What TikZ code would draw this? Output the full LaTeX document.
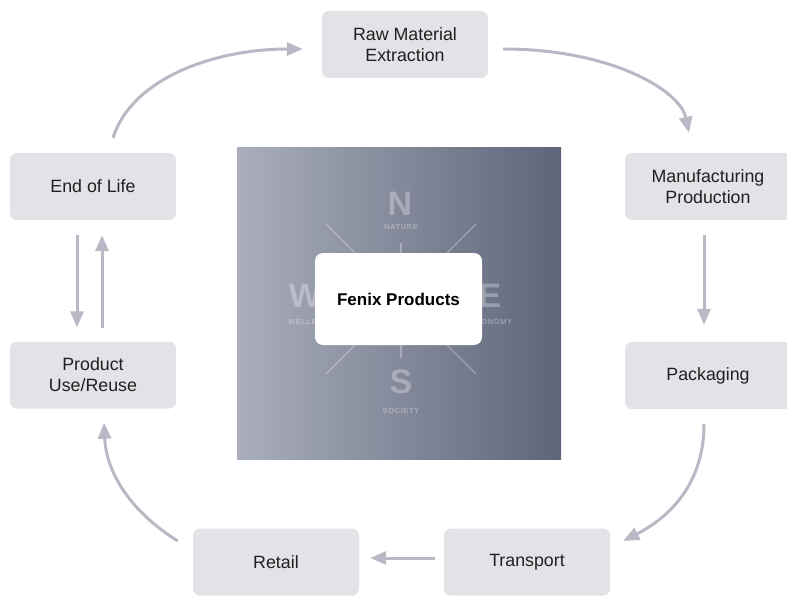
\documentclass[tikz,border=0pt]{standalone}
\usepackage{fontspec}
\setmainfont{Liberation Sans}
\usetikzlibrary{arrows.meta,calc}
\definecolor{boxfill}{HTML}{E2E2E7}
\definecolor{arrcol}{HTML}{B9B9C6}
\definecolor{txt}{HTML}{231F20}
\definecolor{gradL}{HTML}{AAAEBC}
\definecolor{gradR}{HTML}{5D6579}
\begin{document}
\begin{tikzpicture}[x=1pt,y=-1pt,
 stagebox/.style={fill=boxfill, rounded corners=7pt, minimum width=166pt, minimum height=67pt, inner sep=0pt, align=center, text=txt, font=\fontsize{17.8}{21}\selectfont},
 flow/.style={draw=arrcol, line width=3pt, -{Triangle[length=16pt,width=13pt]}},
 compass/.style={text=white, text opacity=0.3, font=\bfseries\fontsize{34}{34}\selectfont, inner sep=0pt},
 clabel/.style={text=white, text opacity=0.32, font=\bfseries\fontsize{7.5}{8}\selectfont\addfontfeatures{LetterSpace=8}, inner sep=0pt},
 cline/.style={draw=white, draw opacity=0.3, line width=1.2pt}]
\useasboundingbox (0,0) rectangle (787,596);
\clip (0,0) rectangle (787,596);

% stages
\node[stagebox] (raw) at (405,44.5) {Raw Material\\Extraction};
\node[stagebox] (man) at (708,186.5) {Manufacturing\\Production};
\node[stagebox] (pack) at (708,375.5) {Packaging};
\node[stagebox] (trans) at (527,562) {Transport};
\node[stagebox] (ret) at (276,562) {Retail};
\node[stagebox] (use) at (93,375) {Product\\Use/Reuse};
\node[stagebox] (eol) at (93,186.5) {End of Life};

% central square
\node[left color=gradL, right color=gradR, minimum width=324pt, minimum height=311pt, inner sep=0pt] (sq) at (399,303.5) {};
\coordinate (cc) at (401,299);
\draw[cline] ($(cc)+(0,-56)$) -- ($(cc)+(0,59)$);
\draw[cline] ($(cc)+(-75,-75)$) -- ($(cc)+(75,75)$);
\draw[cline] ($(cc)+(75,-75)$) -- ($(cc)+(-75,75)$);
\node[compass] (cn) at (400,204) {N};
\node[clabel] (cnl) at (401,227) {NATURE};
\node[compass] (cs) at (401,382) {S};
\node[clabel] (csl) at (401,411) {SOCIETY};
\node[compass] (cw) at (305,296) {W};
\node[clabel] (cwl) at (313,322) {WELLBEING};
\node[compass] (ce) at (490,296) {E};
\node[clabel] (cel) at (491,322) {ECONOMY};
\node[fill=white, rounded corners=8pt, minimum width=167pt, minimum height=92pt, inner sep=0pt, text=black, font=\bfseries\fontsize{17}{20}\selectfont] (fenix) at (398.5,299) {Fenix Products};

% connectors
\coordinate (a1s) at ($(eol.north)+(20,-15)$);
\coordinate (a1e) at ($(raw.west)+(-19,4.5)$);
\coordinate (a2s) at ($(raw.east)+(15,4.5)$);
\coordinate (a2e) at ($(man.north)+(-19,-20)$);
\coordinate (a3s) at ($(man.south)+(-4,15)$);
\coordinate (a3e) at ($(pack.north)+(-4,-17)$);
\coordinate (a4s) at ($(pack.south)+(-4,15)$);
\coordinate (a4e) at ($(trans.east)+(13,-21)$);
\coordinate (a5s) at ($(trans.west)+(-9,-4)$);
\coordinate (a5e) at ($(ret.east)+(11,-4)$);
\coordinate (a6s) at ($(ret.west)+(-15,-21)$);
\coordinate (a6e) at ($(use.south)+(11,14)$);
\coordinate (a7s) at ($(eol.south)+(-16,15)$);
\coordinate (a7e) at ($(use.north)+(-16,-14)$);
\coordinate (a8s) at ($(use.north)+(9,-13)$);
\coordinate (a8e) at ($(eol.south)+(9,15)$);

\draw[flow] (a1s) .. controls (132,78) and (215,49) .. (a1e);
\draw[flow] (a2s) .. controls (610,49) and (680,90) .. (a2e);
\draw[flow] (a3s) -- (a3e);
\draw[flow] (a4s) .. controls (704,485) and (668,518) .. (a4e);
\draw[flow] (a5s) -- (a5e);
\draw[flow] (a6s) .. controls (128,510) and (106,470) .. (a6e);
\draw[flow] (a7s) -- (a7e);
\draw[flow] (a8s) -- (a8e);
\end{tikzpicture}
\end{document}
